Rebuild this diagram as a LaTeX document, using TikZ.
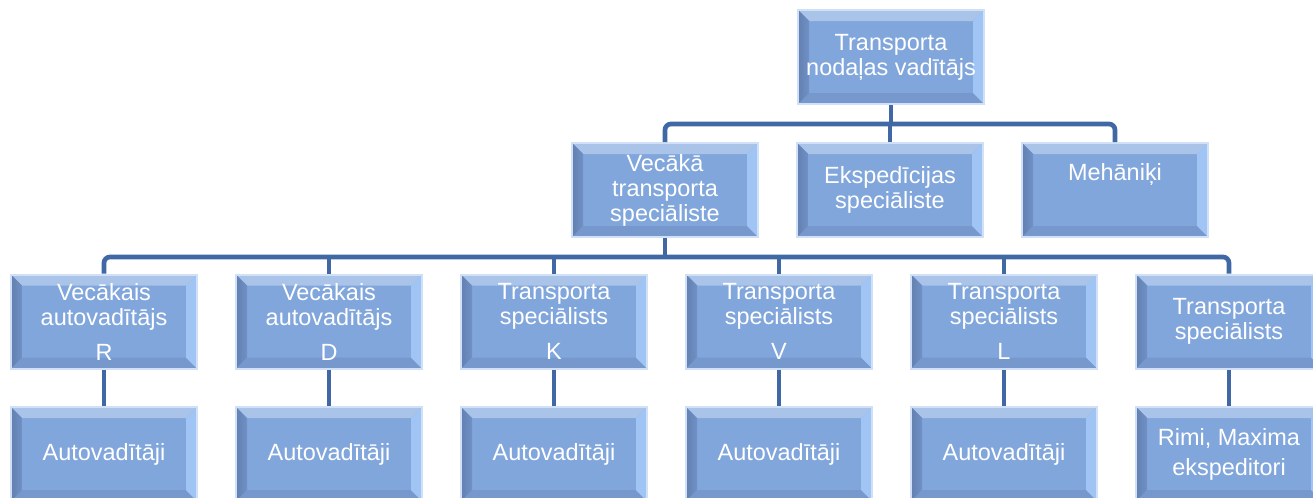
\documentclass[tikz,border=0pt]{standalone}
\usepackage{fontspec}
\setmainfont{Liberation Sans}
\definecolor{edgec}{RGB}{208,225,247}
\definecolor{facec}{RGB}{129,166,219}
\definecolor{topc}{RGB}{170,195,233}
\definecolor{leftc}{RGB}{112,145,199}
\definecolor{rightc}{RGB}{160,197,245}
\definecolor{botc}{RGB}{118,152,205}
\definecolor{linkc}{RGB}{63,104,165}
\newcommand\bevw{8.25pt}
\tikzset{
  bev/.style={rectangle, draw=edgec, line width=1.5pt, fill=facec,
    text=white, align=center, inner sep=0pt,
    minimum width=139.5pt, minimum height=70.5pt,
    font=\fontsize{17.6pt}{18.75pt}\selectfont,
    path picture={
      \def\ppb{path picture bounding box}
      \fill[topc] (\ppb.north west) -- (\ppb.north east)
        -- ([shift={(-\bevw,-\bevw)}]\ppb.north east)
        -- ([shift={(\bevw,-\bevw)}]\ppb.north west) -- cycle;
      \fill[botc] (\ppb.south west) -- (\ppb.south east)
        -- ([shift={(-\bevw,\bevw)}]\ppb.south east)
        -- ([shift={(\bevw,\bevw)}]\ppb.south west) -- cycle;
      \fill[left color=leftc!88!black, right color=leftc] (\ppb.north west) -- (\ppb.south west)
        -- ([shift={(\bevw,\bevw)}]\ppb.south west)
        -- ([shift={(\bevw,-\bevw)}]\ppb.north west) -- cycle;
      \fill[rightc] (\ppb.north east) -- (\ppb.south east)
        -- ([shift={(-\bevw,\bevw)}]\ppb.south east)
        -- ([shift={(-\bevw,-\bevw)}]\ppb.north east) -- cycle;
    }},
  link/.style={draw=linkc, line width=3.5pt, rounded corners=4.5pt}
}
\begin{document}
\begin{tikzpicture}[x=0.75pt,y=-0.75pt]
\useasboundingbox (0,0) rectangle (1313,497);

% head
\node[bev] (top) at (891,57) {Transporta\\nodaļas vadītājs};

% second level
\node[bev] (m1) at (665,190) {Vecākā\\transporta\\speciāliste};
\node[bev] (m2) at (890,190) {Ekspedīcijas\\speciāliste};
\node[bev] (m3) at (1115,190) {Mehāniķi\\[9pt]\mbox{}};

% third level
\node[bev] (l1) at (104,321.5) {Vecākais\\autovadītājs\\[7.5pt]R};
\node[bev] (l2) at (329,321.5) {Vecākais\\autovadītājs\\[7.5pt]D};
\node[bev] (l3) at (554,321.5) {Transporta\\speciālists\\[7.5pt]K};
\node[bev] (l4) at (779,321.5) {Transporta\\speciālists\\[7.5pt]V};
\node[bev] (l5) at (1004,321.5) {Transporta\\speciālists\\[7.5pt]L};
\node[bev] (l6) at (1229,321.5) {Transporta\\speciālists};

% fourth level
\node[bev] (b1) at (104,454) {Autovadītāji};
\node[bev] (b2) at (329,454) {Autovadītāji};
\node[bev] (b3) at (554,454) {Autovadītāji};
\node[bev] (b4) at (779,454) {Autovadītāji};
\node[bev] (b5) at (1004,454) {Autovadītāji};
\node[bev] (b6) at (1229,454) {Rimi, Maxima\\[3.75pt]ekspeditori};

% bus lines
\coordinate (hubA) at (891,124);
\coordinate (hubB) at (665,257);

\draw[link] (m1.north) |- (m3.north |- hubA) -- (m3.north);
\draw[link] (top.south) -- (top.south |- hubA);
\draw[link] (m2.north) -- (m2.north |- hubA);

\draw[link] (l1.north) |- (l6.north |- hubB) -- (l6.north);
\draw[link] (m1.south) -- (hubB);
\foreach \n in {l2,l3,l4,l5}
  \draw[link] (\n.north) -- (\n.north |- hubB);

\foreach \i in {1,...,6}
  \draw[link] (l\i.south) -- (b\i.north);
\end{tikzpicture}
\end{document}
